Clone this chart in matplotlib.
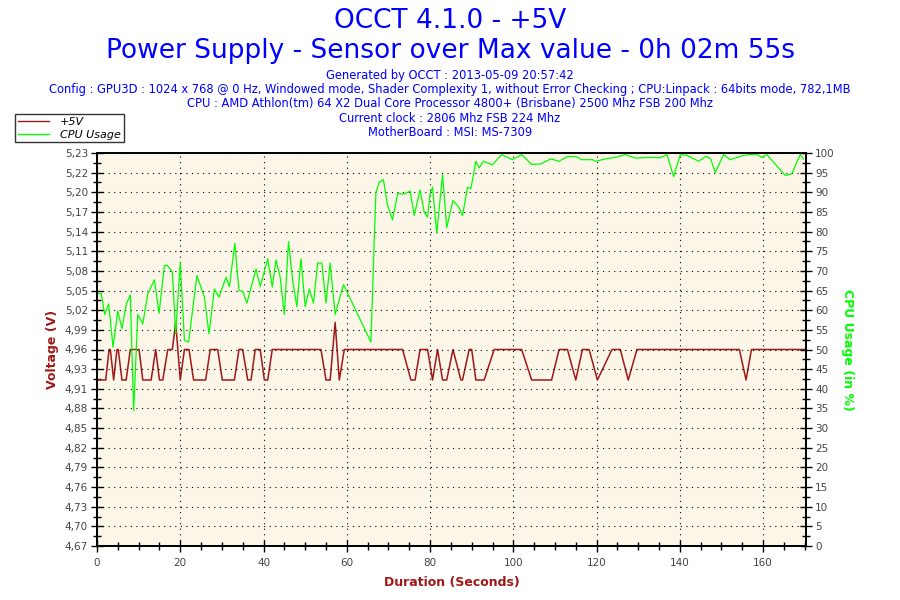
import numpy as np
import matplotlib
matplotlib.use("Agg")
import matplotlib.pyplot as plt
from matplotlib.lines import Line2D

# ---------------- data ----------------
cpu_t = [0.2, 1.0, 1.85, 2.8, 3.85, 5.0, 6.0, 7.05, 8.0, 8.8, 9.8, 11.0, 12.2, 13.8, 14.9,
         16.2, 16.9, 18.1, 18.9, 20.0, 21.0, 22.0, 24.0, 25.8, 26.9, 28.2, 29.3, 31.0, 31.8,
         33.1, 34.1, 35.0, 36.0, 38.2, 39.2, 41.0, 42.1, 43.0, 44.0, 45.0, 46.0, 47.0, 48.0,
         49.0, 50.0, 51.0, 52.0, 53.0, 54.0, 55.0, 56.0, 57.2, 59.2, 65.8, 66.6, 67.0, 67.8,
         68.8, 69.8, 71.0, 72.2, 73.8, 75.2, 76.2, 77.6, 78.6, 79.4, 80.0, 80.6, 81.6, 83.0,
         84.0, 85.5, 86.8, 87.8, 89.0, 89.8, 91.0, 91.8, 92.8, 95.0, 97.2, 99.8, 102.0, 104.4,
         106.6, 109.0, 111.0, 113.0, 115.0, 116.4, 119.0, 119.8, 122.2, 124.6, 126.9, 129.4,
         132.9, 135.3, 136.9, 138.5, 140.1, 141.7, 144.5, 146.3, 147.4, 148.5, 150.5, 152.1,
         155.3, 156.5, 158.5, 159.7, 160.9, 165.3, 166.9, 168.9, 169.7]
cpu_v = [64.3, 64.3, 58.9, 61.6, 50.6, 59.8, 55.3, 61.6, 63.9, 34.5, 58.9, 56.5, 64.2, 67.7, 59.2,
         71.4, 71.4, 69.7, 54.0, 72.2, 52.3, 51.9, 68.8, 63.3, 54.0, 65.4, 63.3, 68.4, 66.0,
         77.0, 65.0, 64.8, 61.8, 70.5, 66.0, 73.1, 65.9, 72.8, 68.4, 58.9, 77.5, 67.6, 60.9,
         73.1, 60.9, 65.4, 61.8, 72.0, 72.0, 61.8, 72.0, 58.9, 66.5, 51.9, 78.2, 90.0, 92.6,
         93.2, 86.6, 83.0, 89.6, 89.6, 90.3, 84.1, 90.6, 84.9, 83.7, 89.6, 91.3, 79.6, 94.5,
         81.0, 87.9, 86.4, 84.1, 91.3, 90.9, 97.9, 96.2, 97.9, 97.0, 99.6, 98.3, 99.6, 97.1,
         97.2, 98.5, 97.9, 99.1, 99.1, 98.3, 98.3, 97.9, 98.5, 98.9, 99.6, 98.7,
         98.9, 98.8, 99.6, 94.0, 99.6, 99.4, 97.9, 99.2, 98.5, 95.0, 99.6, 98.3,
         99.4, 99.6, 99.6, 98.9, 99.6, 94.3, 94.7, 99.6, 98.5]

volt_t = [0.0, 2.1, 2.9, 3.2, 4.0, 4.8, 5.1, 6.0, 7.0, 8.0, 10.1, 11.0, 13.0, 14.1, 15.0, 15.8,
          17.0, 18.1, 18.9, 20.0, 21.0, 22.1, 23.2, 26.1, 27.2, 29.0, 30.1, 33.0, 34.1, 35.0,
          36.2, 37.0, 38.0, 39.2, 40.2, 41.0, 42.1, 53.8, 55.0, 56.0, 57.2, 58.2, 59.4, 73.4,
          75.4, 76.4, 77.6, 79.4, 80.6, 81.8, 83.0, 84.0, 85.5, 87.4, 87.8, 89.4, 90.0, 91.0,
          93.0, 95.4, 102.0, 104.4, 109.2, 111.0, 113.0, 115.0, 116.6, 118.2, 120.2, 123.7,
          125.7, 127.6, 129.7, 154.3, 155.9, 157.2, 170.5]
volt_v = [4.915, 4.915, 4.96, 4.96, 4.915, 4.96, 4.96, 4.915, 4.915, 4.96, 4.96, 4.915, 4.915,
          4.96, 4.915, 4.915, 4.96, 4.96, 5.00, 4.915, 4.96, 4.96, 4.915, 4.915, 4.96, 4.96,
          4.915, 4.915, 4.96, 4.96, 4.915, 4.915, 4.96, 4.96, 4.915, 4.915, 4.96, 4.96, 4.915,
          4.915, 5.00, 4.915, 4.96, 4.96, 4.915, 4.915, 4.96, 4.96, 4.915, 4.96, 4.915, 4.915,
          4.96, 4.915, 4.915, 4.96, 4.96, 4.915, 4.915, 4.96, 4.96, 4.915, 4.915, 4.96, 4.96,
          4.915, 4.96, 4.96, 4.915, 4.96, 4.96, 4.915, 4.96, 4.96, 4.915, 4.96, 4.96]

volt_ticklabels = ["4,67", "4,70", "4,73", "4,76", "4,79", "4,82", "4,85", "4,88", "4,91", "4,93",
                   "4,96", "4,99", "5,02", "5,05", "5,08", "5,11", "5,14", "5,17", "5,20", "5,22",
                   "5,23"]
cpu_ticks = list(range(0, 101, 5))
time_ticks = [0, 20, 40, 60, 80, 100, 120, 140, 160]

title1 = "OCCT 4.1.0 - +5V"
title2 = "Power Supply - Sensor over Max value - 0h 02m 55s"
info_lines = [
    "Generated by OCCT : 2013-05-09 20:57:42",
    "Config : GPU3D : 1024 x 768 @ 0 Hz, Windowed mode, Shader Complexity 1, without Error Checking ; CPU:Linpack : 64bits mode, 782,1MB",
    "CPU : AMD Athlon(tm) 64 X2 Dual Core Processor 4800+ (Brisbane) 2500 Mhz FSB 200 Mhz",
    "Current clock : 2806 Mhz FSB 224 Mhz",
    "MotherBoard : MSI: MS-7309",
]

# ---------------- styling ----------------
RED = "#a01818"
GREEN = "#00ff00"
BLUE = "#0000ff"
TICKC = "#444444"
VMIN, VMAX = 4.67, 5.25

plt.rcParams["font.family"] = ["DejaVu Sans"]

fig = plt.figure(figsize=(9, 6), dpi=100)
W, H = 900, 600
ax = fig.add_axes([97 / W, 1 - 546 / H, 709 / W, 393 / H])
ax.set_facecolor("#fcf6e8")
ax2 = ax.twinx()

ax.plot(volt_t, volt_v, color=RED, lw=1.1, zorder=3)
ax2.plot(cpu_t, cpu_v, color=GREEN, lw=0.9, zorder=2)

ax.set_xlim(0, 170.3)
ax.set_ylim(VMIN, VMAX)
ax2.set_ylim(0, 100)

vt = np.linspace(VMIN, VMAX, 21)
ax.set_yticks(vt)
ax.set_yticklabels(volt_ticklabels)
ax.set_yticks(np.linspace(VMIN, VMAX, 41), minor=True)
ax2.set_yticks(cpu_ticks)
ax2.set_yticks(np.arange(0, 100.1, 2.5), minor=True)
ax.set_xticks(time_ticks)
ax.set_xticks(np.arange(0, 171, 5), minor=True)

for a in (ax, ax2):
    a.tick_params(which="major", direction="inout", length=9, width=1.0, colors="black",
                  labelcolor=TICKC, labelsize=7.5)
    a.tick_params(which="minor", direction="inout", length=5.5, width=1.0, colors="black")
    for s in a.spines.values():
        s.set_linewidth(1.3)
        s.set_color("black")
ax.tick_params(axis="y", pad=2)
ax2.tick_params(axis="y", pad=2)
ax.tick_params(axis="x", pad=4)

# grid (dotted)
ax2.grid(axis="y", which="major", color="black", linestyle=(0, (1, 4)), linewidth=0.8)
ax.grid(axis="x", which="major", color="black", linestyle=(0, (1, 4)), linewidth=0.8)
ax.set_axisbelow(True)

ax.set_ylabel("Voltage (V)", color=RED, fontsize=9, fontweight="bold", labelpad=4)
ax.set_xlabel("Duration (Seconds)", color=RED, fontsize=9, fontweight="bold", labelpad=6)
ax2.set_ylabel("CPU Usage (in %)", color=GREEN, fontsize=9, fontweight="bold",
               rotation=270, labelpad=14)

# titles
fig.text(0.5, 1 - 21 / H, title1, ha="center", va="center", color=BLUE, fontsize=19)
fig.text(0.5, 1 - 51 / H, title2, ha="center", va="center", color=BLUE, fontsize=19)
for i, line in enumerate(info_lines):
    fig.text(0.5, 1 - (76 + 14 * i) / H, line, ha="center", va="center", color=BLUE, fontsize=8.3)

# legend
handles = [Line2D([], [], color=RED, lw=1.0), Line2D([], [], color=GREEN, lw=1.0)]
leg = fig.legend(handles, ["+5V", "CPU Usage"], loc="upper left",
                 bbox_to_anchor=(15 / W, 1 - 114 / H), fancybox=False, frameon=True,
                 prop={"style": "italic", "size": 8}, handlelength=2.8,
                 borderpad=0.25, labelspacing=0.25, handletextpad=1.0, borderaxespad=0)
leg.get_frame().set_edgecolor("black")
leg.get_frame().set_linewidth(1.0)

fig.savefig("out.png", dpi=100)
